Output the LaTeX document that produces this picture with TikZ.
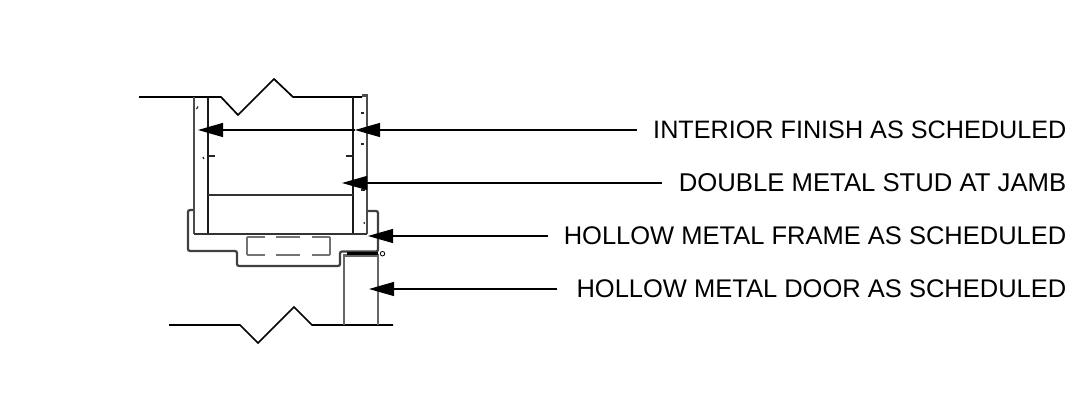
\documentclass[tikz,border=0pt]{standalone}
\usepackage{fontspec}
\setmainfont{Liberation Sans}
\usetikzlibrary{arrows.meta}
\tikzset{
    wall/.style={line width=1.7pt, black},
    stud/.style={line width=2.4pt, black!70},
    heavy/.style={line width=2.8pt, black!90},
    frame/.style={line width=2.2pt, black!75, rounded corners=2pt},
    doorline/.style={line width=2.5pt, black!60},
    hidden/.style={line width=1.3pt, black!55},
    tick/.style={line width=1.2pt, black!85},
    leader/.style={line width=1.3pt, black, -{Triangle[length=25pt,width=14pt]}},
    callout/.style={inner sep=0pt, anchor=east}
}
\begin{document}
\begin{tikzpicture}[x=1pt, y=-1pt]
    \useasboundingbox (0,0) rectangle (1072,398);

    % Muro
    \draw[wall] (139,97) -- (221,97) -- (238,115) -- (274,79) -- (293,97) -- (362,97);
    \draw[wall] (169,325) -- (240,325) -- (258,343) -- (294,307) -- (312,325) -- (393,325);

    % Montanti
    \draw[stud] (194,97) -- (194,234);
    \draw[stud] (362,95.5) -- (367,95.5) -- (367,234);
    \foreach \x in {208, 353} {
            \draw[heavy] (\x,97) -- (\x,234);
        }
    \draw[line width=1.9pt, black!80] (194,234) -- (367,234);
    \draw[line width=1.9pt, black!80] (208,195) -- (353,195);

    % Tacche
    \foreach \xa/\ya/\xb/\yb in {208/156/215/156, 346/156/353/156, 361/113/364/113, 361/144/364/144,
            361/190/365/190, 196.5/109/198/106.5, 203/157/204/159, 364/222/364.5/224} {
            \draw[tick] (\xa,\ya) -- (\xb,\yb);
        }

    % Telaio
    \draw[frame] (193,210) -- (188,210) -- (188,251) -- (237,251) -- (237,266)
        -- (340,266) -- (340,251.5) -- (378,251.5) -- (378,211) -- (367,211);
    \foreach \xa/\xb in {265/247, 300/276, 330/312} {
            \draw[hidden] (\xa,237) -- (\xb,237);
            \draw[hidden] (\xa,255) -- (\xb,255);
        }
    \foreach \x in {247, 330} {
            \draw[hidden] (\x,237) -- (\x,255);
        }

    % Porta
    \draw[doorline] (344,325) -- (344,255.5) -- (378,255.5) -- (378,325);
    \draw[line width=2.4pt, black] (347,253.5) -- (378,253.5);
    \node[circle, draw, line width=0.8pt, inner sep=0pt, minimum size=4.5pt] (hinge) at (382.5,253.7) {};

    % Punte
    \coordinate (finishL) at (198,130);
    \coordinate (finishR) at (355,130);
    \coordinate (studtip) at (342,183);
    \coordinate (frametip) at (368,236);
    \coordinate (doortip) at (369,289);

    % Etichette e frecce
    \foreach \name/\y/\size/\gap/\tip/\txt in {
            finish/129.5/25.2/16/finishR/INTERIOR FINISH AS SCHEDULED,
            jamb/183/25.7/17/studtip/DOUBLE METAL STUD AT JAMB,
            framelabel/236/25.5/16/frametip/HOLLOW METAL FRAME AS SCHEDULED,
            door/289/25.5/19/doortip/HOLLOW METAL DOOR AS SCHEDULED} {
            \node[callout, font=\fontsize{\size pt}{28pt}\selectfont] (\name) at (1066.5,\y) {\txt};
            \draw[leader, shorten <=\gap pt] (\name.west |- \tip) -- (\tip);
        }
    \draw[leader] (finishR) -- (finishL);
\end{tikzpicture}
\end{document}
